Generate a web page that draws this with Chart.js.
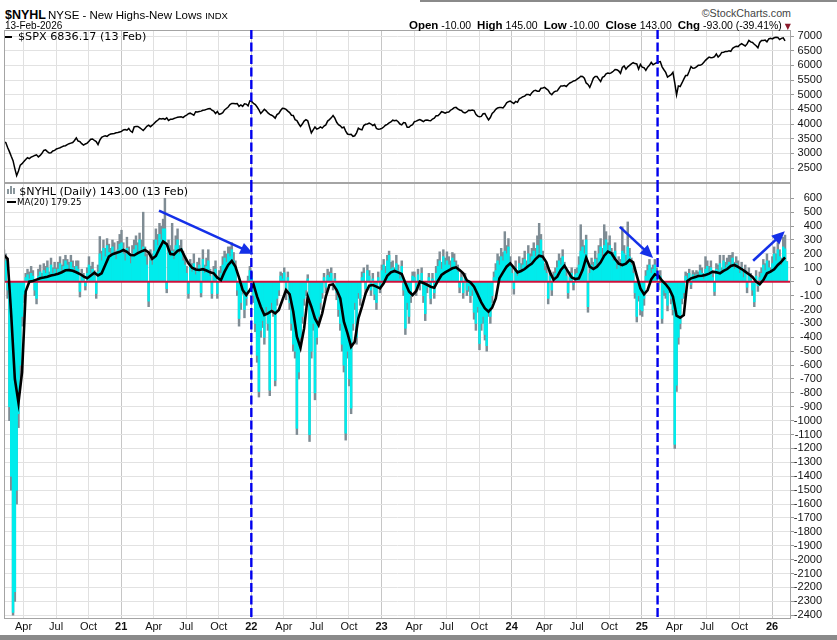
<!DOCTYPE html>
<html>
<head>
<meta charset="utf-8">
<title>$NYHL NYSE - New Highs-New Lows</title>
<script src="https://cdn.jsdelivr.net/npm/chart.js@4.4.1/dist/chart.umd.min.js"></script>
<style>
  html,body{margin:0;padding:0;background:#fff;}
  #wrap{position:relative;width:837px;height:640px;overflow:hidden;background:#fff;}
  .band{position:absolute;background:#8a8a8a;}
  canvas{position:absolute;left:0;}
  .t{position:absolute;white-space:nowrap;color:#000;}
  .hd{font-family:"Liberation Sans",Arial,sans-serif;}
  .lg{font-family:"DejaVu Sans",sans-serif;}
  .g{margin-left:6px;}
  #ohlc b{font-size:11.5px;}
</style>
</head>
<body>
<div id="wrap">
  <div class="band" style="left:420px;top:0;width:417px;height:2px;"></div>
  <div class="band" style="left:0;top:635px;width:837px;height:5px;"></div>
  <canvas id="spx" width="837" height="153" style="top:30px;"></canvas>
  <canvas id="nyhl" width="837" height="457" style="top:183px;"></canvas>

  <div class="t hd" style="left:5px;top:8.5px;font-size:12.5px;line-height:12.5px;font-weight:bold;">$NYHL</div>
  <div class="t hd" style="left:48px;top:9.5px;font-size:11.5px;line-height:11.5px;">NYSE - New Highs-New Lows <span style="font-size:9.5px;">INDX</span></div>
  <div class="t hd" style="left:5px;top:20.8px;font-size:10px;line-height:10px;">13-Feb-2026</div>
  <div class="t hd" style="right:46px;top:8px;font-size:10.7px;line-height:10.7px;color:#444;">&copy;StockCharts.com</div>
  <div class="t hd" id="ohlc" style="right:46px;top:20.4px;font-size:10.5px;line-height:11.5px;"><b>Open</b> -10.00<b class="g">High</b> 145.00<b class="g">Low</b> -10.00<b class="g">Close</b> 143.00<b class="g">Chg</b> -93.00 (-39.41%)<span style="font-family:'DejaVu Sans';font-size:8px;color:#8b1a2b;margin-left:3px;">&#9660;</span></div>

  <div class="t" style="left:5px;top:35.5px;width:7px;height:2.2px;background:#000;"></div>
  <div class="t lg" style="left:18px;top:31.1px;font-size:11.2px;line-height:11.2px;">$SPX 6836.17 (13 Feb)</div>

  <div class="t" style="left:7px;top:189px;width:2px;height:5px;background:#8a969c;"></div>
  <div class="t" style="left:10px;top:186px;width:2px;height:8px;background:#8a969c;"></div>
  <div class="t" style="left:13px;top:188px;width:2px;height:6px;background:#8a969c;"></div>
  <div class="t lg" style="left:19.3px;top:185.6px;font-size:11.1px;line-height:11.1px;">$NYHL (Daily) 143.00 (13 Feb)</div>
  <div class="t" style="left:6.5px;top:200.5px;width:9px;height:2.2px;background:#000;"></div>
  <div class="t lg" style="left:17px;top:197.8px;font-size:8.7px;line-height:8.7px;">MA(20) 179.25</div>
</div>

<script>
// ---------------- DATA ----------------
// x positions are in "months since Jan 2020" (Jan 2021 = 12, Jan 2026 = 72)
const X_MIN = 1.2, X_MAX = 73.75;
const BAR_START = 1.2, BAR_STEP = 1 / 6;   // NYHL and SPX samples: ~every 5 calendar days
const LINE_START = 1.2, LINE_STEP = 1 / 3; // MA(20) samples: ~every 10 calendar days

const quarterTicks  = [3,6,9,12,15,18,21,24,27,30,33,36,39,42,45,48,51,54,57,60,63,66,69,72];
const quarterLabels = ['Apr','Jul','Oct','21','Apr','Jul','Oct','22','Apr','Jul','Oct','23',
                       'Apr','Jul','Oct','24','Apr','Jul','Oct','25','Apr','Jul','Oct','26'];
const yearTicks = [12,24,36,48,60,72];

const spxTicks  = [2500,3000,3500,4000,4500,5000,5500,6000,6500,7000];
const nyhlTicks = [600,500,400,300,200,100,0,-100,-200,-300,-400,-500,-600,-700,-800,-900,-1000,
                   -1100,-1200,-1300,-1400,-1500,-1600,-1700,-1800,-1900,-2000,-2100,-2200,-2300,-2400];
const SPX_MIN = 1990, SPX_MAX = 7205;
const NYHL_MIN = -2427, NYHL_MAX = 710;

// $SPX close (6 samples per month)
const spxClose = [
  3386,3370,3200,3060,2900,2750,2480,2240,2400,2600,
  2650,2720,2790,2850,2820,2870,2900,2930,2950,2880,
  2930,3000,3100,3120,3060,3010,3020,3080,3100,3150,
  3170,3190,3220,3250,3260,3300,3330,3350,3370,3440,
  3530,3420,3400,3330,3280,3320,3350,3410,3480,3490,
  3440,3400,3300,3450,3550,3580,3600,3580,3630,3660,
  3670,3680,3700,3710,3730,3750,3800,3810,3790,3850,
  3760,3720,3900,3920,3920,3880,3830,3780,3850,3920,
  3960,3910,3960,4020,4080,4130,4185,4170,4190,4160,
  4210,4120,4160,4160,4190,4210,4230,4240,4250,4220,
  4270,4300,4350,4370,4340,4300,4420,4410,4430,4440,
  4470,4480,4500,4520,4530,4470,4440,4360,4430,4330,
  4350,4390,4480,4530,4580,4660,4700,4700,4690,4700,
  4600,4650,4600,4690,4680,4620,4790,4770,4700,4660,
  4580,4480,4360,4430,4500,4450,4380,4330,4300,4260,
  4200,4320,4360,4460,4540,4530,4500,4440,4390,4300,
  4290,4150,4120,4010,3920,4000,4100,4150,4110,3900,
  3700,3800,3900,3830,3850,3900,3860,3930,3970,4100,
  4150,4210,4290,4200,4060,3980,3940,3870,3900,3760,
  3660,3640,3650,3580,3600,3700,3860,3820,3800,3950,
  3990,4000,4030,4000,3950,3990,3850,3820,3830,3850,
  3900,3960,3990,4040,4070,4130,4110,4130,4080,4000,
  3970,4050,4040,3890,3890,3950,3980,4080,4100,4130,
  4150,4120,4080,4130,4140,4120,4110,4170,4200,4280,
  4280,4340,4420,4400,4370,4400,4410,4470,4510,4560,
  4570,4520,4480,4460,4400,4380,4410,4470,4460,4480,
  4460,4330,4270,4250,4260,4350,4360,4240,4140,4220,
  4360,4420,4500,4550,4560,4560,4550,4620,4720,4760,
  4780,4740,4700,4770,4740,4860,4890,4930,4950,5010,
  5010,4980,5070,5130,5150,5120,5120,5220,5230,5250,
  5200,5150,5050,5000,5080,5120,5130,5220,5300,5300,
  5310,5280,5350,5400,5430,5470,5480,5530,5570,5630,
  5620,5560,5400,5350,5250,5400,5560,5620,5620,5530,
  5450,5590,5620,5710,5740,5720,5750,5800,5860,5850,
  5810,5730,5930,5980,5870,5950,6000,6050,6090,6060,
  6050,5870,6030,5940,5920,5830,5940,6000,6100,6020,
  6060,6090,6115,6130,5950,5850,5760,5600,5640,5680,
  5760,5400,4990,5300,5280,5400,5530,5650,5650,5800,
  5960,5900,5910,5950,6000,6000,6030,6100,6170,6230,
  6280,6260,6270,6300,6390,6280,6340,6440,6450,6470,
  6470,6500,6480,6580,6620,6650,6640,6700,6740,6700,
  6660,6730,6850,6800,6780,6720,6670,6600,6780,6850,
  6850,6860,6800,6900,6920,6900,6940,6960,6950,6880,
  6920,6940,6836
];

// $NYHL MA(20) (3 samples per month)
const nyhlMA20 = [
  190,165,-240,-700,-870,-650,-70,0,5,15,
  25,30,36,44,50,57,68,82,83,78,
  68,55,38,25,45,65,45,60,120,180,
  198,206,215,228,215,192,190,205,218,228,
  210,165,185,240,290,270,200,195,222,232,
  180,132,100,88,84,90,80,67,60,29,
  12,72,120,149,108,29,-60,-96,-60,-19,
  -108,-180,-240,-228,-211,-228,-204,-132,-60,-91,
  -216,-396,-475,-336,-108,-180,-264,-312,-228,-108,
  -24,-19,-60,-120,-288,-372,-468,-432,-264,-180,
  -84,-29,-24,-36,-48,-12,43,67,77,67,
  55,-10,-70,-96,-67,0,-10,-22,-36,-43,
  5,48,67,82,96,103,84,60,10,-5,
  -36,-91,-149,-192,-216,-187,-120,24,67,108,
  132,101,67,77,91,113,130,163,187,180,
  139,67,14,36,84,115,72,31,19,24,
  84,173,108,91,108,139,187,216,204,163,
  130,120,130,156,139,43,-48,-91,-60,17,
  53,43,7,-19,-53,-108,-245,-259,-240,5,
  24,31,41,43,48,58,72,67,60,77,
  91,113,120,106,91,72,53,34,0,-19,
  12,60,72,89,120,144,175
];

// $NYHL close (6 samples per month), Feb 2020 .. 13 Feb 2026
const nyhlClose = [
  180,150,-60,-900,-1400,
  -2380,-2230,-1500,-950,-600,-250,
  -90,30,50,20,60,40,
  -60,-120,40,70,20,80,
  60,100,30,120,60,90,
  50,90,130,70,110,150,
  120,80,140,100,60,110,
  90,-70,40,20,-30,60,
  120,60,90,40,-85,70,
  200,150,240,180,260,210,
  180,250,200,160,230,270,
  280,200,150,240,190,130,
  180,230,260,200,300,220,
  250,180,120,-140,150,120,
  220,300,260,340,300,380,
  380,-50,250,180,220,160,
  260,300,200,240,150,120,
  60,-85,110,70,130,50,
  90,120,-80,160,60,110,
  150,40,-85,60,90,-85,
  30,60,120,170,140,200,
  180,230,150,100,-60,-265,
  -150,-50,-200,-120,10,80,
  30,-100,-300,-530,-790,-350,
  -280,-400,-180,-300,-780,-150,
  -200,-710,-120,-60,40,20,
  65,-80,30,-150,-300,-450,
  -500,-1055,-650,-400,-250,-120,
  -60,20,-1100,-500,-300,-800,
  -400,-250,-150,-80,30,-40,
  45,30,60,-20,20,-80,
  -200,-300,-450,-600,-1090,-500,
  -700,-910,-300,-150,-400,-80,
  -120,30,60,-50,80,40,
  -60,20,-90,-150,30,-40,
  80,120,60,150,190,90,
  100,60,130,80,20,110,
  -60,-335,-150,-250,-100,40,
  30,-60,50,-20,60,-100,
  -230,-40,30,-120,20,-80,
  60,110,150,90,180,120,
  150,120,90,170,140,100,
  70,-40,30,-80,20,-60,
  -30,-100,-60,-220,-300,-180,
  -445,-300,-250,-380,-460,-200,
  -250,-100,30,80,150,120,
  180,150,220,200,250,120,
  60,-50,100,40,130,80,
  120,160,90,200,140,180,
  220,180,260,200,300,150,
  80,60,-120,40,-60,30,
  60,100,150,120,180,90,
  40,-80,30,60,-20,50,
  60,120,220,250,200,300,
  -180,60,120,90,160,110,
  200,250,180,260,300,220,
  260,180,150,220,90,120,
  100,220,200,130,250,180,
  120,60,-80,-250,-100,-200,
  -210,-120,40,80,120,60,
  90,120,60,-20,40,-265,
  -60,-80,-170,-40,-120,-200,
  -1170,-745,-400,-300,-120,-80,
  40,20,60,-20,50,30,
  50,30,80,60,20,90,
  110,70,100,30,-70,90,
  80,130,60,150,100,120,
  140,110,170,90,130,100,
  60,100,30,80,-40,60,
  20,-60,-145,40,-30,30,
  60,120,80,150,100,60,
  130,200,150,230,180,120,
  250,236,143
];

// $NYHL intraday extreme (high on up days, low on down days), same samples
const nyhlHiLo = [
  230,200,-120,-1000,-1500,
  -2400,-2300,-1600,-1050,-700,-320,
  -150,60,90,70,110,80,
  -100,-160,90,120,60,130,
  110,150,70,170,100,140,
  100,140,180,120,160,190,
  160,140,190,150,110,150,
  150,-110,90,60,-60,100,
  180,110,140,80,-120,120,
  325,220,300,240,310,270,
  240,300,280,220,290,340,
  370,280,210,320,250,200,
  260,300,330,280,350,300,
  500,250,200,-180,230,200,
  300,380,340,420,400,450,
  600,-80,300,260,420,230,
  330,380,260,300,220,180,
  110,-120,160,130,200,100,
  140,170,-110,230,120,170,
  230,90,-120,110,150,-120,
  80,110,180,220,200,250,
  250,280,210,150,-100,-320,
  -200,-90,-260,-170,40,110,
  70,-150,-360,-580,-830,-400,
  -330,-450,-230,-350,-820,-200,
  -250,-750,-170,-100,70,60,
  100,-130,70,-200,-350,-500,
  -550,-1100,-700,-450,-300,-170,
  -100,50,-1150,-550,-350,-850,
  -450,-300,-200,-120,60,-80,
  90,70,100,-60,60,-130,
  -250,-350,-500,-650,-1140,-550,
  -750,-950,-350,-200,-450,-120,
  -170,70,100,-90,120,80,
  -100,60,-130,-200,70,-80,
  120,160,110,190,220,140,
  150,100,190,120,60,150,
  -100,-380,-200,-300,-150,70,
  70,-100,90,-60,100,-150,
  -280,-80,60,-160,60,-120,
  110,160,215,140,230,170,
  215,180,150,210,200,150,
  120,-80,60,-120,60,-100,
  -70,-150,-100,-270,-350,-220,
  -490,-350,-300,-420,-500,-250,
  -300,-150,70,130,200,180,
  240,210,360,260,310,180,
  110,-90,150,80,180,130,
  170,220,150,260,200,240,
  280,240,330,420,340,220,
  130,110,-160,80,-100,70,
  100,150,200,170,230,140,
  80,-120,70,100,-60,90,
  100,180,410,300,260,335,
  -220,110,170,140,220,170,
  260,310,240,410,360,280,
  330,240,210,280,150,180,
  160,395,260,190,430,240,
  170,100,-120,-290,-140,-240,
  -250,-170,80,120,160,100,
  120,160,100,-60,80,-300,
  -100,-120,-210,-80,-160,-240,
  -1200,-790,-450,-340,-160,-120,
  70,60,90,-50,80,65,
  80,70,120,100,60,180,
  150,110,150,70,-100,130,
  120,190,100,190,140,170,
  190,190,210,140,180,150,
  100,140,70,120,-80,100,
  60,-100,-180,80,-70,70,
  100,160,130,200,150,100,
  180,250,200,280,230,170,
  320,335,145
];

const zeroLevel = 0;
// annotation: vertical dashed markers (month positions) and trend arrows [x, value]
const markerMonths = [24.0, 61.45];
const arrowFrom = [[15.49, 511], [57.97, 394], [70.26, 151]];
const arrowTo   = [[24.18, 201], [61.04, 171], [73.18, 362]];

// ---------------- RENDERING ----------------
const barPts  = arr => arr.map((v, i) => ({x: BAR_START + i * BAR_STEP, y: v}));
const linePts = arr => arr.map((v, j) => ({x: LINE_START + j * LINE_STEP, y: v}));

const decor = {
  id: 'decor',
  afterDatasetDraw(chart, args, opts) {
    if (!opts.zero || args.index !== 1) return;
    const {ctx, chartArea: a, scales: {y}} = chart;
    const py = y.getPixelForValue(zeroLevel);
    ctx.save();
    ctx.strokeStyle = '#d0103c';
    ctx.lineWidth = 2;
    ctx.beginPath(); ctx.moveTo(a.left, py); ctx.lineTo(a.right, py); ctx.stroke();
    ctx.restore();
  },
  afterDraw(chart, args, opts) {
    const {ctx, chartArea: a, scales: {x, y}} = chart;
    ctx.save();
    // panel frame
    ctx.strokeStyle = '#a4a4a4'; ctx.lineWidth = 1;
    ctx.strokeRect(Math.round(a.left) + 0.5, Math.round(a.top) + 0.5,
                   Math.round(a.right - a.left) - 1, Math.round(a.bottom - a.top) - 1);
    // dashed vertical markers
    ctx.strokeStyle = '#0000ee'; ctx.lineWidth = 2.4; ctx.setLineDash([9, 3.5]);
    markerMonths.forEach(m => {
      const px = x.getPixelForValue(m);
      ctx.beginPath(); ctx.moveTo(px, a.top); ctx.lineTo(px, a.bottom); ctx.stroke();
    });
    ctx.setLineDash([]);
    if (opts.arrows) {
      ctx.strokeStyle = '#1430e8'; ctx.fillStyle = '#1430e8'; ctx.lineWidth = 2.6;
      arrowFrom.forEach((p, k) => {
        const x1 = x.getPixelForValue(p[0]), y1 = y.getPixelForValue(p[1]);
        const x2 = x.getPixelForValue(arrowTo[k][0]), y2 = y.getPixelForValue(arrowTo[k][1]);
        const ang = Math.atan2(y2 - y1, x2 - x1), L = 13, W = 6;
        const bx = x2 - L * Math.cos(ang), by = y2 - L * Math.sin(ang);
        ctx.beginPath(); ctx.moveTo(x1, y1); ctx.lineTo(bx + 2 * Math.cos(ang), by + 2 * Math.sin(ang)); ctx.stroke();
        ctx.beginPath();
        ctx.moveTo(x2, y2);
        ctx.lineTo(bx + W * Math.sin(ang), by - W * Math.cos(ang));
        ctx.lineTo(bx - W * Math.sin(ang), by + W * Math.cos(ang));
        ctx.closePath(); ctx.fill();
      });
    }
    ctx.restore();
  }
};

function xAxis(showLabels) {
  return {
    type: 'linear', min: X_MIN, max: X_MAX, offset: false,
    afterBuildTicks: s => { s.ticks = quarterTicks.map(v => ({value: v})); },
    afterFit: s => { s.height = showLabels ? 21 : 0; s.paddingLeft = 0; s.paddingRight = 0; },
    ticks: {
      display: showLabels, autoSkip: false, maxRotation: 0, minRotation: 0, padding: 1, color: '#111',
      callback: (v, i) => quarterLabels[i],
      font: c => ({family: 'Liberation Sans', size: 11,
                   weight: (c.tick && yearTicks.includes(c.tick.value)) ? 'bold' : 'normal'})
    },
    grid: {
      offset: false, drawTicks: false, lineWidth: 1,
      color: c => (c.tick && yearTicks.includes(c.tick.value)) ? '#c6c6c6' : '#e0e0e0'
    },
    border: {display: false}
  };
}

function yAxis(min, max, ticks) {
  return {
    type: 'linear', position: 'right', min, max,
    afterBuildTicks: s => { s.ticks = ticks.map(v => ({value: v})); },
    afterFit: s => { s.width = 31; s.paddingTop = 0; s.paddingBottom = 0; },
    ticks: {padding: 0, crossAlign: 'far', color: '#111', autoSkip: false,
            font: {family: 'Liberation Sans', size: 11}, callback: v => String(v)},
    grid: {color: '#e2e2e2', lineWidth: 1, drawTicks: true, tickLength: 3, tickColor: '#9a9a9a'},
    border: {display: false}
  };
}

const common = {
  responsive: false, animation: false,
  layout: {padding: {left: 4, right: 15, top: 0, bottom: 0}},
  events: []
};

new Chart(document.getElementById('spx'), {
  type: 'line',
  data: {datasets: [{
    data: barPts(spxClose), borderColor: '#000', borderWidth: 1.5,
    pointRadius: 0, tension: 0, fill: false
  }]},
  options: Object.assign({}, common, {
    scales: {x: xAxis(false), y: yAxis(SPX_MIN, SPX_MAX, spxTicks)},
    plugins: {legend: {display: false}, tooltip: {enabled: false}, decor: {zero: false, arrows: false}}
  }),
  plugins: [decor]
});

new Chart(document.getElementById('nyhl'), {
  type: 'bar',
  data: {datasets: [
    {type: 'line', data: linePts(nyhlMA20), borderColor: '#000', borderWidth: 2.6,
     pointRadius: 0, tension: 0, fill: false, order: 0},
    {type: 'bar', data: barPts(nyhlClose), backgroundColor: '#00ecec', borderWidth: 0,
     grouped: false, barPercentage: 1, categoryPercentage: 1, order: 1},
    {type: 'bar', data: barPts(nyhlHiLo), backgroundColor: '#7f8c94', borderWidth: 0,
     grouped: false, barPercentage: 1, categoryPercentage: 1, order: 2}
  ]},
  options: Object.assign({}, common, {
    scales: {x: xAxis(true), y: yAxis(NYHL_MIN, NYHL_MAX, nyhlTicks)},
    plugins: {legend: {display: false}, tooltip: {enabled: false}, decor: {zero: true, arrows: true}}
  }),
  plugins: [decor]
});
</script>
</body>
</html>
